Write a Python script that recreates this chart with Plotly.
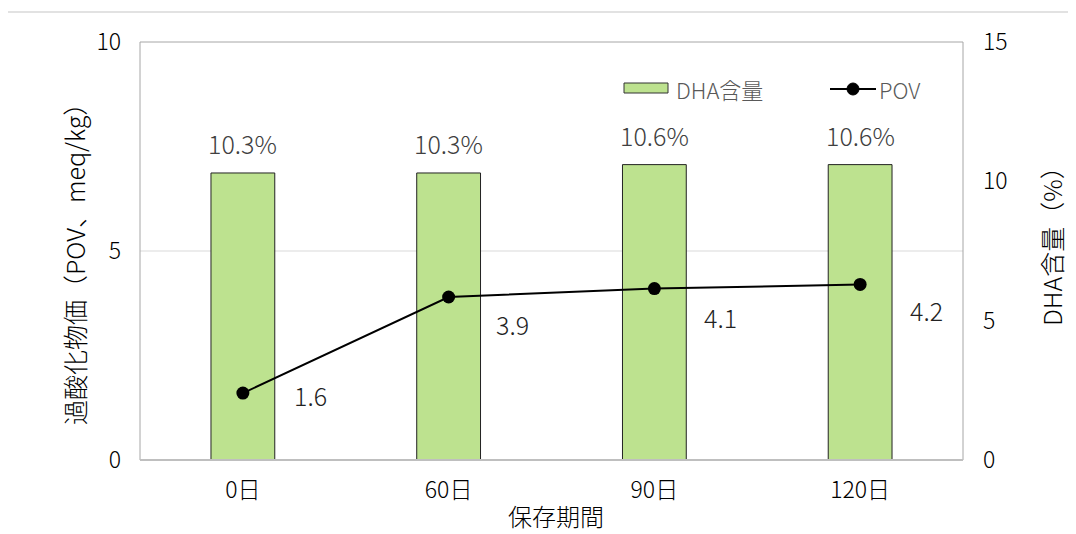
import plotly.graph_objects as go

# ---- data ----
categories = ["0日", "60日", "90日", "120日"]
dha_values = [10.3, 10.3, 10.6, 10.6]          # DHA含量 (%), right axis
pov_values = [1.6, 3.9, 4.1, 4.2]               # POV (meq/kg), left axis
dha_labels = ["10.3%", "10.3%", "10.6%", "10.6%"]
pov_labels = ["1.6", "3.9", "4.1", "4.2"]
left_ticks = [0, 5, 10]
right_ticks = [0, 5, 10, 15]

FONT = "Noto Sans CJK JP"
WT = 300
OFF = 8                          # page body margin
W, H = 1076 - OFF, 534 - OFF
L, R, T, B = 140, 963, 42, 460   # plot area in page pixels


def px(xp):
    return (xp - L) / (R - L)


def py(yp):
    return (B - yp) / (B - T)


def fnt(size, color="#000000"):
    return dict(family=FONT, size=size, color=color, weight=WT)


fig = go.Figure()

fig.add_trace(go.Bar(
    x=categories, y=dha_values, name="DHA含量",
    marker=dict(color="#bde28f", line=dict(color="#222222", width=1)),
    width=0.31, yaxis="y", showlegend=False,
))
fig.add_trace(go.Scatter(
    x=categories, y=pov_values, name="POV", mode="lines+markers",
    line=dict(color="#000000", width=2),
    marker=dict(color="#000000", size=13),
    yaxis="y2", showlegend=False,
))

annotations = []
# bar data labels
for c, v, t in zip(categories, dha_values, dha_labels):
    annotations.append(dict(x=c, y=v, xref="x", yref="y", text=t, showarrow=False,
                            xanchor="center", yanchor="bottom", yshift=10,
                            font=fnt(25, "#404040")))
# line data labels
pov_shift = [(68, -2), (64, -27), (66, -28), (66, -26)]
for c, v, t, (dx, dy) in zip(categories, pov_values, pov_labels, pov_shift):
    annotations.append(dict(x=c, y=v, xref="x", yref="y2", text=t, showarrow=False,
                            xanchor="center", yanchor="middle",
                            xshift=dx, yshift=dy, font=fnt(25, "#222222")))


def paper_text(x, y, text, size, color="#000000", angle=0, xanchor="center"):
    return dict(x=px(x), y=py(y), xref="paper", yref="paper", text=text,
                textangle=angle, showarrow=False, xanchor=xanchor, yanchor="middle",
                font=fnt(size, color))


# axis titles
annotations.append(paper_text(74, 258, "過酸化物価（POV、meq/kg）", 25, angle=-90))
annotations.append(paper_text(1051, 240, "DHA含量（%）", 25, angle=-90))
annotations.append(paper_text(556, 515, "保存期間", 24))
# legend texts
annotations.append(paper_text(674, 89, "DHA含量", 22, "#595959", xanchor="left"))
annotations.append(paper_text(877, 89, "POV", 22, "#595959", xanchor="left"))

shapes = [
    # outer chart border
    dict(type="rect", xref="paper", yref="paper", x0=px(5), x1=px(1090), y0=py(548), y1=py(12),
         line=dict(color="#d9d9d9", width=1.5), fillcolor="rgba(0,0,0,0)", layer="below"),
    # gridline at 5 (left axis)
    dict(type="line", xref="paper", yref="y2", x0=0, x1=1, y0=5, y1=5,
         line=dict(color="#d9d9d9", width=1), layer="below"),
    # plot frame
    dict(type="rect", xref="paper", yref="paper", x0=0, x1=1, y0=0, y1=1,
         line=dict(color="#a6a6a6", width=1), layer="below"),
    # bottom axis line
    dict(type="line", xref="paper", yref="paper", x0=0, x1=1, y0=0, y1=0,
         line=dict(color="#bfbfbf", width=2), layer="above"),
    # legend swatch (bar)
    dict(type="rect", xref="paper", yref="paper", x0=px(624), x1=px(668), y0=py(93), y1=py(83),
         line=dict(color="#333333", width=1), fillcolor="#bde28f", layer="above"),
    # legend line
    dict(type="line", xref="paper", yref="paper", x0=px(830), x1=px(876), y0=py(89), y1=py(89),
         line=dict(color="#000000", width=2), layer="above"),
    dict(type="circle", xref="paper", yref="paper", x0=px(847), x1=px(859), y0=py(95), y1=py(83),
         line=dict(color="#000000", width=1), fillcolor="#000000", layer="above"),
]

fig.update_layout(
    width=W, height=H,
    margin=dict(l=L - OFF, r=1076 - R, t=T - OFF, b=534 - B, autoexpand=False),
    paper_bgcolor="#ffffff", plot_bgcolor="#ffffff",
    font=fnt(23),
    xaxis=dict(type="category", showgrid=False, showline=False, ticks="",
               tickfont=fnt(23), ticklabelstandoff=14, range=[-0.5, 3.5]),
    yaxis=dict(side="right", range=[0, 15], tickvals=right_ticks, showgrid=False,
               zeroline=False, showline=False, ticks="",
               tickfont=fnt(23), ticklabelstandoff=19),
    yaxis2=dict(side="left", overlaying="y", range=[0, 10], tickvals=left_ticks,
                showgrid=False, zeroline=False, showline=False, ticks="",
                tickfont=fnt(23), ticklabelstandoff=18),
    annotations=annotations,
    shapes=shapes,
    showlegend=False,
)

fig.write_html("out.html")
